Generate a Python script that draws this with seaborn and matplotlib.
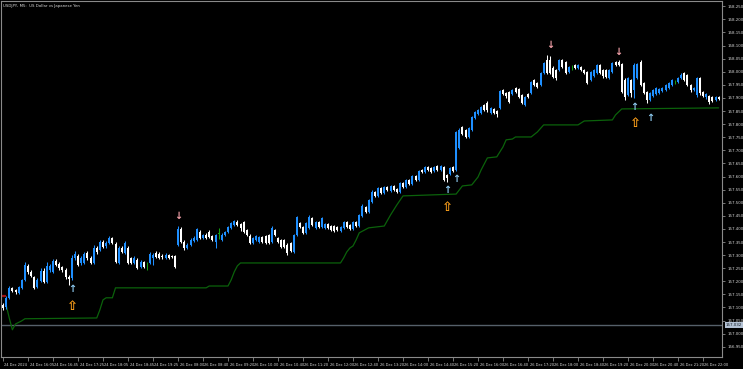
import numpy as np
import pandas as pd
import matplotlib
matplotlib.use("Agg")
import matplotlib.pyplot as plt
import matplotlib.transforms as mtransforms
import seaborn as sns

# ---------------- data (USDJPY M5) ----------------
opens = [
    157.110, 157.102, 157.137, 157.175, 157.167, 157.156, 157.175, 157.205,
    157.259, 157.236, 157.217, 157.179, 157.201, 157.240, 157.198, 157.243,
    157.236, 157.278, 157.266, 157.255, 157.243, 157.217, 157.213, 157.289,
    157.297, 157.270, 157.270, 157.308, 157.289, 157.270, 157.327, 157.320,
    157.350, 157.335, 157.346, 157.366, 157.343, 157.270, 157.327, 157.308,
    157.327, 157.289, 157.270, 157.282, 157.255, 157.274, 157.262, 157.270,
    157.289, 157.308, 157.304, 157.297, 157.289, 157.301, 157.297, 157.297,
    157.339, 157.400, 157.350, 157.327, 157.339, 157.354, 157.358, 157.389,
    157.366, 157.377, 157.389, 157.373, 157.350, 157.381, 157.358, 157.377,
    157.389, 157.404, 157.415, 157.427, 157.419, 157.427, 157.396, 157.373,
    157.346, 157.358, 157.350, 157.369, 157.373, 157.377, 157.350, 157.396,
    157.366, 157.358, 157.358, 157.339, 157.346, 157.312, 157.377, 157.423,
    157.408, 157.385, 157.404, 157.442, 157.404, 157.427, 157.408, 157.404,
    157.419, 157.411, 157.411, 157.408, 157.392, 157.404, 157.427, 157.415,
    157.400, 157.427, 157.411, 157.450, 157.484, 157.465, 157.503, 157.541,
    157.526, 157.556, 157.537, 157.560, 157.545, 157.564, 157.553, 157.541,
    157.576, 157.560, 157.587, 157.572, 157.602, 157.587, 157.625, 157.618,
    157.637, 157.633, 157.621, 157.640, 157.625, 157.637, 157.606, 157.610,
    157.637, 157.625, 157.709, 157.789, 157.778, 157.751, 157.778, 157.824,
    157.839, 157.843, 157.873, 157.881, 157.843, 157.858, 157.850, 157.862,
    157.931, 157.919, 157.923, 157.915, 157.938, 157.934, 157.911, 157.873,
    157.915, 157.919, 157.969, 157.957, 157.950, 157.995, 158.045, 158.045,
    158.015, 158.007, 158.007, 158.045, 158.037, 157.999, 158.018, 158.026,
    158.015, 158.018, 158.007, 157.999, 157.969, 157.984, 157.995, 158.026,
    158.007, 158.007, 157.976, 157.999, 158.037, 158.037, 158.030, 157.969,
    157.911, 157.969, 157.931, 157.976, 158.037, 157.957, 157.923, 157.892,
    157.908, 157.915, 157.919, 157.927, 157.931, 157.938, 157.950, 157.961,
    157.961, 157.976, 157.995, 157.988, 157.950, 157.931, 157.911, 157.976,
    157.923, 157.904, 157.908, 157.904, 157.892, 157.904,
]
closes = [
    157.099, 157.137, 157.175, 157.163, 157.159, 157.179, 157.205, 157.262,
    157.236, 157.220, 157.175, 157.205, 157.240, 157.198, 157.259, 157.259,
    157.278, 157.262, 157.251, 157.243, 157.217, 157.209, 157.289, 157.304,
    157.262, 157.289, 157.304, 157.289, 157.270, 157.327, 157.312, 157.350,
    157.331, 157.346, 157.366, 157.346, 157.274, 157.327, 157.312, 157.346,
    157.270, 157.270, 157.289, 157.251, 157.274, 157.255, 157.262, 157.304,
    157.301, 157.293, 157.289, 157.293, 157.301, 157.289, 157.293, 157.255,
    157.400, 157.350, 157.327, 157.339, 157.358, 157.366, 157.400, 157.366,
    157.377, 157.366, 157.369, 157.358, 157.377, 157.381, 157.377, 157.389,
    157.408, 157.423, 157.431, 157.415, 157.404, 157.389, 157.377, 157.346,
    157.366, 157.373, 157.369, 157.350, 157.346, 157.346, 157.404, 157.377,
    157.350, 157.331, 157.331, 157.308, 157.316, 157.377, 157.446, 157.408,
    157.385, 157.423, 157.446, 157.415, 157.427, 157.408, 157.442, 157.419,
    157.404, 157.396, 157.392, 157.396, 157.408, 157.427, 157.408, 157.400,
    157.427, 157.411, 157.453, 157.488, 157.465, 157.511, 157.541, 157.526,
    157.556, 157.537, 157.560, 157.549, 157.564, 157.549, 157.541, 157.576,
    157.560, 157.587, 157.572, 157.602, 157.587, 157.621, 157.618, 157.637,
    157.625, 157.618, 157.637, 157.625, 157.640, 157.587, 157.595, 157.633,
    157.621, 157.770, 157.778, 157.763, 157.751, 157.785, 157.827, 157.847,
    157.854, 157.866, 157.854, 157.854, 157.862, 157.843, 157.839, 157.927,
    157.915, 157.908, 157.885, 157.931, 157.923, 157.904, 157.881, 157.904,
    157.904, 157.961, 157.950, 157.942, 157.995, 158.034, 157.995, 157.995,
    157.980, 157.976, 158.045, 158.018, 157.995, 158.018, 158.018, 158.015,
    158.026, 158.007, 157.995, 157.957, 157.999, 158.007, 158.026, 157.995,
    157.984, 157.980, 158.007, 158.034, 158.026, 158.026, 157.923, 157.904,
    157.976, 157.919, 158.026, 158.030, 157.950, 157.919, 157.892, 157.919,
    157.931, 157.938, 157.934, 157.938, 157.950, 157.957, 157.969, 157.961,
    157.976, 157.988, 157.969, 157.950, 157.931, 157.938, 157.976, 157.919,
    157.908, 157.915, 157.885, 157.889, 157.904, 157.896,
]
highs = [
    157.118, 157.144, 157.182, 157.179, 157.171, 157.182, 157.209, 157.274,
    157.266, 157.243, 157.220, 157.213, 157.251, 157.251, 157.274, 157.266,
    157.285, 157.285, 157.274, 157.259, 157.251, 157.224, 157.301, 157.316,
    157.304, 157.297, 157.312, 157.316, 157.297, 157.339, 157.335, 157.358,
    157.358, 157.354, 157.373, 157.369, 157.350, 157.335, 157.335, 157.354,
    157.335, 157.293, 157.297, 157.289, 157.282, 157.278, 157.274, 157.312,
    157.308, 157.316, 157.312, 157.304, 157.308, 157.304, 157.301, 157.301,
    157.411, 157.408, 157.358, 157.346, 157.366, 157.373, 157.404, 157.396,
    157.381, 157.385, 157.396, 157.377, 157.381, 157.404, 157.385, 157.392,
    157.411, 157.427, 157.434, 157.434, 157.423, 157.431, 157.400, 157.381,
    157.369, 157.377, 157.373, 157.373, 157.377, 157.381, 157.411, 157.400,
    157.369, 157.362, 157.362, 157.346, 157.350, 157.381, 157.450, 157.427,
    157.411, 157.427, 157.453, 157.446, 157.431, 157.431, 157.446, 157.423,
    157.423, 157.415, 157.415, 157.411, 157.411, 157.431, 157.431, 157.419,
    157.431, 157.431, 157.457, 157.495, 157.488, 157.514, 157.549, 157.545,
    157.560, 157.560, 157.564, 157.564, 157.568, 157.568, 157.556, 157.579,
    157.579, 157.591, 157.591, 157.606, 157.606, 157.625, 157.629, 157.640,
    157.640, 157.637, 157.640, 157.644, 157.644, 157.640, 157.610, 157.637,
    157.640, 157.774, 157.785, 157.793, 157.782, 157.789, 157.831, 157.850,
    157.858, 157.869, 157.877, 157.889, 157.866, 157.862, 157.854, 157.931,
    157.934, 157.923, 157.927, 157.934, 157.942, 157.938, 157.915, 157.908,
    157.919, 157.965, 157.973, 157.961, 157.999, 158.037, 158.064, 158.060,
    158.022, 158.011, 158.049, 158.049, 158.041, 158.022, 158.026, 158.030,
    158.030, 158.022, 158.011, 158.003, 158.003, 158.011, 158.030, 158.030,
    158.011, 158.011, 158.011, 158.037, 158.041, 158.045, 158.034, 157.976,
    157.980, 157.973, 158.034, 158.034, 158.045, 157.961, 157.927, 157.923,
    157.934, 157.942, 157.938, 157.942, 157.953, 157.961, 157.973, 157.969,
    157.980, 157.995, 157.999, 157.992, 157.953, 157.942, 157.980, 157.980,
    157.927, 157.919, 157.911, 157.908, 157.908, 157.908,
]
lows = [
    157.091, 157.095, 157.133, 157.159, 157.152, 157.152, 157.171, 157.201,
    157.228, 157.217, 157.171, 157.175, 157.198, 157.194, 157.194, 157.236,
    157.232, 157.259, 157.243, 157.236, 157.209, 157.186, 157.205, 157.282,
    157.259, 157.262, 157.266, 157.282, 157.266, 157.266, 157.304, 157.316,
    157.327, 157.327, 157.343, 157.343, 157.270, 157.266, 157.308, 157.304,
    157.266, 157.266, 157.266, 157.247, 157.251, 157.251, 157.243, 157.266,
    157.262, 157.289, 157.285, 157.285, 157.285, 157.285, 157.289, 157.251,
    157.335, 157.346, 157.320, 157.324, 157.335, 157.350, 157.354, 157.362,
    157.362, 157.362, 157.366, 157.354, 157.327, 157.362, 157.354, 157.373,
    157.385, 157.400, 157.411, 157.411, 157.392, 157.385, 157.373, 157.343,
    157.343, 157.354, 157.346, 157.346, 157.343, 157.343, 157.346, 157.373,
    157.346, 157.327, 157.327, 157.301, 157.312, 157.308, 157.373, 157.404,
    157.381, 157.381, 157.400, 157.411, 157.400, 157.404, 157.404, 157.400,
    157.400, 157.392, 157.389, 157.392, 157.389, 157.400, 157.404, 157.396,
    157.396, 157.408, 157.408, 157.446, 157.461, 157.461, 157.499, 157.522,
    157.522, 157.533, 157.533, 157.545, 157.541, 157.545, 157.537, 157.537,
    157.556, 157.556, 157.568, 157.568, 157.583, 157.583, 157.614, 157.614,
    157.621, 157.614, 157.618, 157.621, 157.621, 157.583, 157.579, 157.606,
    157.618, 157.621, 157.705, 157.759, 157.747, 157.747, 157.774, 157.820,
    157.835, 157.839, 157.850, 157.847, 157.839, 157.839, 157.827, 157.858,
    157.911, 157.900, 157.881, 157.911, 157.919, 157.900, 157.877, 157.869,
    157.900, 157.915, 157.946, 157.938, 157.946, 157.992, 157.992, 157.992,
    157.976, 157.969, 158.003, 158.015, 157.992, 157.995, 158.007, 158.011,
    158.011, 158.003, 157.992, 157.953, 157.965, 157.980, 157.992, 157.992,
    157.976, 157.976, 157.973, 157.995, 158.022, 158.022, 157.919, 157.892,
    157.908, 157.904, 157.900, 157.973, 157.946, 157.915, 157.881, 157.889,
    157.904, 157.911, 157.915, 157.923, 157.927, 157.934, 157.946, 157.953,
    157.957, 157.973, 157.965, 157.946, 157.923, 157.927, 157.904, 157.911,
    157.904, 157.896, 157.877, 157.885, 157.889, 157.892,
]

# trailing support line (bar index, price)
support_idx = [1, 2, 3, 4, 6, 7, 30, 31, 32, 33, 35, 36, 65, 66, 72, 73, 74, 75,
               76, 108, 109, 110, 111, 112, 113, 114, 117, 122, 124, 126, 128,
               145, 147, 150, 152, 153, 155, 158, 160, 161, 163, 164, 169, 171,
               173, 184, 186, 195, 196, 198, 229]
support_val = [157.110, 157.060, 157.015, 157.037, 157.049, 157.057, 157.060,
               157.091, 157.129, 157.137, 157.137, 157.175, 157.175, 157.182,
               157.182, 157.205, 157.236, 157.259, 157.270, 157.270, 157.289,
               157.312, 157.327, 157.335, 157.358, 157.385, 157.404, 157.411,
               157.453, 157.491, 157.526, 157.533, 157.564, 157.568, 157.598,
               157.625, 157.671, 157.675, 157.713, 157.740, 157.743, 157.751,
               157.751, 157.770, 157.797, 157.797, 157.812, 157.816, 157.835,
               157.858, 157.862]

# signal arrows
up_idx = [22, 142, 145, 202, 207]
up_val = [157.171, 157.549, 157.591, 157.866, 157.824]
hollow_idx = [22, 142, 202]
hollow_val = [157.102, 157.481, 157.801]
down_idx = [56, 175, 197]
down_val = [157.450, 158.103, 158.076]

level_price = 157.032
red_level = 157.144
red_span = [-1, 1]

x_tick_labels = [
    "24 Dec 2024", "24 Dec 16:05", "24 Dec 16:45", "24 Dec 17:25",
    "24 Dec 18:05", "24 Dec 18:45", "24 Dec 19:25", "26 Dec 08:00",
    "26 Dec 08:40", "26 Dec 09:20", "26 Dec 10:00", "26 Dec 10:40",
    "26 Dec 11:20", "26 Dec 12:00", "26 Dec 12:40", "26 Dec 13:20",
    "26 Dec 14:00", "26 Dec 14:40", "26 Dec 15:20", "26 Dec 16:00",
    "26 Dec 16:40", "26 Dec 17:20", "26 Dec 18:00", "26 Dec 18:40",
    "26 Dec 19:20", "26 Dec 20:00", "26 Dec 20:40", "26 Dec 21:20",
    "26 Dec 22:00",
]
y_tick_values = [156.95, 157.00, 157.05, 157.10, 157.15, 157.20, 157.25,
                 157.30, 157.35, 157.40, 157.45, 157.50, 157.55, 157.60,
                 157.65, 157.70, 157.75, 157.80, 157.85, 157.90, 157.95,
                 158.00, 158.05, 158.10, 158.15, 158.20, 158.25]
title = "USDJPY, M5:  US Dollar vs Japanese Yen"

# ---------------- figure ----------------
sns.set_theme(style="dark")
plt.rcParams["font.family"] = ["DejaVu Sans"]

W, H = 743, 369
fig = plt.figure(figsize=(W / 100, H / 100), dpi=100, facecolor="black")
ax = fig.add_axes([1 / W, 1 - 357 / H, 721 / W, 356 / H])
ax.set_facecolor("black")

df = pd.DataFrame({"o": opens, "h": highs, "l": lows, "c": closes})
df["i"] = np.arange(len(df))
BLUE, WHITE, DOJI = "#1E8FFF", "#FFFFFF", "#12A012"
cols = np.where(df.c > df.o, BLUE, np.where(df.c < df.o, WHITE, DOJI))

ax.vlines(df.i, df.l, df.h, colors=cols, linewidth=0.75, zorder=3)
body_h = (df.c - df.o).abs().clip(lower=0.0016)
ax.bar(df.i, body_h, bottom=df[["o", "c"]].min(axis=1), width=0.62,
       color=cols, linewidth=0, zorder=4)

sup = pd.DataFrame({"i": support_idx, "v": support_val})
sns.lineplot(data=sup, x="i", y="v", ax=ax, color="#0B620B", linewidth=0.9,
             zorder=2)

ax.axhline(level_price, color="#56606a", linewidth=1.0, zorder=1)
ax.hlines(red_level, red_span[0], red_span[1], color="#a01212", linewidth=1.6,
          zorder=2)

for i, v in zip(up_idx, up_val):
    ax.text(i, v, "\u2191", color="#8CC8EE", fontsize=7, fontweight="bold",
            ha="center", va="center", zorder=6)
for i, v in zip(hollow_idx, hollow_val):
    ax.text(i, v, "\u21E7", color="#FFA11A", fontsize=9.5, fontweight="bold",
            ha="center", va="center", zorder=6)
for i, v in zip(down_idx, down_val):
    ax.text(i, v, "\u2193", color="#F2A0A8", fontsize=7, fontweight="bold",
            ha="center", va="center", zorder=6)

ax.set_xlim(-0.64, 230.08)
ax.set_ylim(156.911, 158.270)

# axes styling
for s in ax.spines.values():
    s.set_color("#8a8a8a")
    s.set_linewidth(0.8)
    s.set_visible(True)
ax.grid(False)
ax.set_xlabel("")
ax.set_ylabel("")

ax.yaxis.tick_right()
ax.set_yticks(y_tick_values)
ax.set_yticklabels([f"{v:.3f}" for v in y_tick_values])
ax.tick_params(axis="y", direction="out", length=2.5, width=0.6,
               color="#8a8a8a", labelcolor="#d8d8d8", labelsize=2.9, pad=1.5,
               right=True, left=False)

ax.set_xticks(list(range(0, 8 * len(x_tick_labels), 8)))
ax.set_xticklabels(x_tick_labels)
ax.tick_params(axis="x", direction="out", length=3, width=0.6,
               color="#8a8a8a", labelcolor="#d8d8d8", labelsize=2.6, pad=1.2,
               bottom=True)
shift = mtransforms.ScaledTranslation(1.5 / 100, 0, fig.dpi_scale_trans)
for lab in ax.get_xticklabels():
    lab.set_horizontalalignment("left")
    lab.set_transform(lab.get_transform() + shift)

tr = mtransforms.blended_transform_factory(ax.transAxes, ax.transData)
ax.text(1.005, level_price, f"{level_price:.3f}", transform=tr, ha="left",
        va="center", fontsize=2.9, color="#101820", clip_on=False,
        bbox=dict(boxstyle="square,pad=0.2", fc="#b4c2d4", ec="none"))

fig.text(3 / W, 1 - 5.5 / H, title, fontsize=2.8, color="#dcdcdc",
         ha="left", va="center")

fig.savefig("out.png", dpi=100, facecolor="black")
